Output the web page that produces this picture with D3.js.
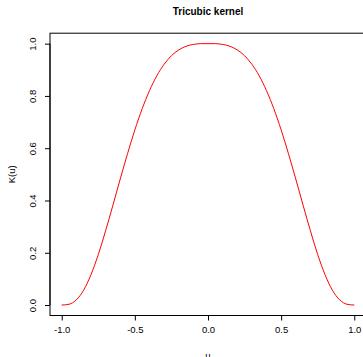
<!DOCTYPE html>
<html>
<head>
<meta charset="utf-8">
<script src="https://cdn.jsdelivr.net/npm/d3@7"></script>
<style>
  body { margin: 0; background: #fff; }
  svg { display: block; font-family: "Liberation Sans", Arial, sans-serif; }
</style>
</head>
<body>
<svg id="chart"></svg>
<script>
// values, step 0.05
var uValues = [-1.00, -0.95, -0.90, -0.85, -0.80, -0.75, -0.70, -0.65, -0.60, -0.55,
               -0.50, -0.45, -0.40, -0.35, -0.30, -0.25, -0.20, -0.15, -0.10, -0.05,
                0.00,  0.05,  0.10,  0.15,  0.20,  0.25,  0.30,  0.35,  0.40,  0.45,
                0.50,  0.55,  0.60,  0.65,  0.70,  0.75,  0.80,  0.85,  0.90,  0.95, 1.00];
var kValues = [0.000, 0.003, 0.020, 0.057, 0.116, 0.193, 0.284, 0.382, 0.482, 0.579,
               0.670, 0.751, 0.820, 0.877, 0.921, 0.954, 0.976, 0.990, 0.997, 1.000,
               1.000,
               1.000, 0.997, 0.990, 0.976, 0.954, 0.921, 0.877, 0.820, 0.751, 0.670,
               0.579, 0.482, 0.382, 0.284, 0.193, 0.116, 0.057, 0.020, 0.003, 0.000];
var xTicks = [-1.0, -0.5, 0.0, 0.5, 1.0];
var yTicks = [0.0, 0.2, 0.4, 0.6, 0.8, 1.0];

var svgWidth = 363, svgHeight = 357;
var plot = { left: 50, right: 366, top: 33.2, bottom: 315.5 };

var svg = d3.select("#chart").attr("width", svgWidth).attr("height", svgHeight);

var x = d3.scaleLinear().domain([-1.08, 1.08]).range([plot.left, plot.right]);
var y = d3.scaleLinear().domain([-0.04, 1.04]).range([plot.bottom, plot.top]);

// curve
var line = d3.line()
    .x(function (d, i) { return x(uValues[i]); })
    .y(function (d) { return y(d); })
    .curve(d3.curveMonotoneX);

svg.append("path")
    .datum(kValues)
    .attr("d", line)
    .attr("fill", "none")
    .attr("stroke", "#ff0000")
    .attr("stroke-width", 1);

// box
svg.append("rect")
    .attr("x", plot.left)
    .attr("y", plot.top)
    .attr("width", plot.right - plot.left)
    .attr("height", plot.bottom - plot.top)
    .attr("fill", "none")
    .attr("stroke", "#000")
    .attr("stroke-width", 1);

// axes
var xAxis = svg.append("g")
    .attr("transform", "translate(0," + plot.bottom + ")")
    .call(d3.axisBottom(x).tickValues(xTicks).tickSize(5).tickPadding(6)
        .tickFormat(d3.format(".1f")));
xAxis.select(".domain").attr("d", "M" + x(-1) + ",0H" + x(1));
xAxis.selectAll("text").attr("font-size", "9.5px").attr("fill", "#000")
    .text(function (d) { return d3.format(".1f")(d).replace("\u2212", "-"); });

var yAxis = svg.append("g")
    .attr("transform", "translate(" + plot.left + ",0)")
    .call(d3.axisLeft(y).tickValues(yTicks).tickSize(5).tickFormat(d3.format(".1f")));
yAxis.select(".domain").attr("d", "M0," + y(0) + "V" + y(1));
yAxis.selectAll(".tick text")
    .attr("font-size", "9.5px").attr("fill", "#000")
    .attr("x", null).attr("dy", null)
    .attr("text-anchor", "middle")
    .attr("transform", "translate(-14,0) rotate(-90)");

svg.selectAll(".domain, .tick line").attr("stroke", "#000");

// titles
svg.append("text")
    .attr("x", (plot.left + plot.right) / 2)
    .attr("y", 15)
    .attr("text-anchor", "middle")
    .attr("font-size", "10px")
    .attr("font-weight", "bold")
    .text("Tricubic kernel");

svg.append("text")
    .attr("x", (plot.left + plot.right) / 2)
    .attr("y", 359)
    .attr("text-anchor", "middle")
    .attr("font-size", "9.5px")
    .text("u");

svg.append("text")
    .attr("transform", "translate(15," + (plot.top + plot.bottom) / 2 + ") rotate(-90)")
    .attr("text-anchor", "middle")
    .attr("font-size", "9.5px")
    .text("K(u)");
</script>
</body>
</html>
